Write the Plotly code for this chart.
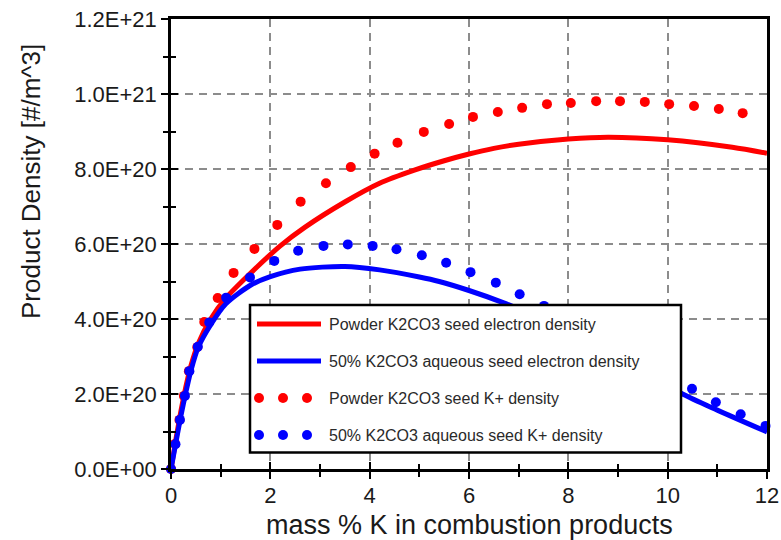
import plotly.graph_objects as go

# ---------------- data (densities in units of 1E+20 #/m^3) ----------------
SCALE = 1e20

powder_e_x = [0, 0.1, 0.2, 0.3, 0.4, 0.55, 0.8, 1.1, 1.6, 2.2, 2.7, 3.5, 4.2, 4.9,
              5.5, 6.0, 6.5, 7.0, 8.0, 8.8, 10.0, 11.3, 12.0]
powder_e_y = [0, 0.80, 1.55, 2.20, 2.75, 3.35, 4.00, 4.55, 5.22, 5.95, 6.45, 7.12,
              7.62, 7.97, 8.22, 8.40, 8.55, 8.66, 8.80, 8.85, 8.78, 8.58, 8.42]

aqueous_e_x = [0, 0.1, 0.2, 0.3, 0.4, 0.55, 0.8, 1.1, 1.6, 2.0, 2.6, 3.5, 4.2, 5.0,
               5.4, 6.0, 6.7, 7.5, 8.5, 9.5, 10.3, 11.0, 12.0]
aqueous_e_y = [0, 0.72, 1.42, 2.05, 2.62, 3.25, 3.85, 4.40, 4.90, 5.13, 5.33, 5.40,
               5.31, 5.12, 5.00, 4.76, 4.43, 3.98, 3.33, 2.62, 2.00, 1.57, 0.99]

powder_k_x = [0, 0.08, 0.17, 0.26, 0.36, 0.53, 0.67, 0.94, 1.26, 1.68, 2.14, 2.61,
              3.12, 3.62, 4.10, 4.56, 5.09, 5.60, 6.08, 6.58, 7.07, 7.57, 8.05,
              8.56, 9.04, 9.54, 10.03, 10.53, 11.03, 11.51]
powder_k_y = [0, 0.67, 1.31, 1.95, 2.61, 3.25, 3.92, 4.56, 5.23, 5.87, 6.51, 7.13,
              7.62, 8.05, 8.41, 8.70, 8.99, 9.20, 9.39, 9.52, 9.63, 9.73, 9.76,
              9.81, 9.81, 9.79, 9.73, 9.68, 9.60, 9.49]

aqueous_k_x = [0, 0.09, 0.18, 0.28, 0.37, 0.54, 0.77, 1.11, 1.59, 2.08, 2.56, 3.07,
               3.56, 4.06, 4.54, 5.05, 5.54, 6.03, 6.54, 7.02, 7.51, 8.0, 8.5,
               9.0, 9.5, 10.0, 10.49, 10.97, 11.47, 11.97]
aqueous_k_y = [0, 0.66, 1.31, 1.95, 2.61, 3.26, 3.91, 4.57, 5.11, 5.55, 5.82, 5.95,
               5.99, 5.95, 5.86, 5.70, 5.50, 5.25, 4.97, 4.66, 4.35, 3.99, 3.62,
               3.25, 2.88, 2.51, 2.14, 1.78, 1.46, 1.15]

series_names = [
    "Powder K2CO3 seed electron density",
    "50% K2CO3 aqueous seed electron density",
    "Powder K2CO3 seed K+ density",
    "50% K2CO3 aqueous seed K+ density",
]
series_colors = ["#ff0000", "#0000ff", "#ff0000", "#0000ff"]

y_tick_vals = [0, 2e20, 4e20, 6e20, 8e20, 1e21, 1.2e21]
y_tick_text = ["0.0E+00", "2.0E+20", "4.0E+20", "6.0E+20", "8.0E+20", "1.0E+21", "1.2E+21"]
y_minor_vals = [1e20, 3e20, 5e20, 7e20, 9e20, 1.1e21]

x_title = "mass % K in combustion products"
y_title = "Product Density [#/m^3]"

# ---------------- figure ----------------
def sc(v):
    return [a * SCALE for a in v]

fig = go.Figure()
fig.add_trace(go.Scatter(x=powder_e_x, y=sc(powder_e_y), mode="lines", name=series_names[0],
                         line=dict(color=series_colors[0], width=5, shape="spline", smoothing=0.8),
                         cliponaxis=False))
fig.add_trace(go.Scatter(x=powder_k_x, y=sc(powder_k_y), mode="markers", name=series_names[2],
                         marker=dict(color=series_colors[2], size=10), cliponaxis=False))
fig.add_trace(go.Scatter(x=aqueous_e_x, y=sc(aqueous_e_y), mode="lines", name=series_names[1],
                         line=dict(color=series_colors[1], width=5, shape="spline", smoothing=0.8),
                         cliponaxis=False))
fig.add_trace(go.Scatter(x=aqueous_k_x, y=sc(aqueous_k_y), mode="markers", name=series_names[3],
                         marker=dict(color=series_colors[3], size=10), cliponaxis=False))

L, R, T, B = 171, 14, 19, 71
W, H = 781, 540
PW, PH = W - L - R, H - T - B

def px(xp):
    return (xp - L) / PW

def py(yp):
    return (H - B - yp) / PH

grid = dict(showgrid=True, gridcolor="#8c8c8c", gridwidth=1.5, griddash="8px,6px")
FONT = "Liberation Sans, Arial, sans-serif"

fig.update_layout(
    width=W, height=H,
    margin=dict(l=L, r=R, t=T, b=B, autoexpand=False),
    paper_bgcolor="white", plot_bgcolor="white",
    showlegend=False,
    font=dict(family=FONT, color="#1a1a1a"),
    xaxis=dict(
        range=[0, 12], tick0=0, dtick=2, ticks="outside", ticklen=7, tickwidth=2,
        tickcolor="black", automargin=False, ticklabelstandoff=-2,
        minor=dict(ticks="outside", dtick=1, tick0=0, ticklen=5, tickwidth=2,
                   tickcolor="black", showgrid=False),
        showline=True, linewidth=2.5, linecolor="black", mirror=True,
        zeroline=False, tickfont=dict(size=22),
        **grid,
    ),
    yaxis=dict(
        range=[0, 1.2e21], tickmode="array", tickvals=y_tick_vals, ticktext=y_tick_text,
        ticks="outside", ticklen=7, tickwidth=2, tickcolor="black", automargin=False,
        minor=dict(ticks="outside", tickvals=y_minor_vals, ticklen=5, tickwidth=2,
                   tickcolor="black", showgrid=False),
        showline=True, linewidth=2.5, linecolor="black", mirror=True,
        zeroline=False, tickfont=dict(size=22),
        **grid,
    ),
    xaxis2=dict(
        overlaying="x", anchor="y", side="bottom", range=[0, 12], tick0=0, dtick=2,
        ticks="inside", ticklen=7, tickwidth=2, tickcolor="black", automargin=False,
        minor=dict(ticks="inside", dtick=1, tick0=0, ticklen=5, tickwidth=2,
                   tickcolor="black", showgrid=False),
        showticklabels=False, showgrid=False, showline=False, zeroline=False,
    ),
    yaxis2=dict(
        overlaying="y", anchor="x", side="left", range=[0, 1.2e21], tickmode="array",
        tickvals=y_tick_vals, ticks="inside", ticklen=7, tickwidth=2, tickcolor="black",
        automargin=False,
        minor=dict(ticks="inside", tickvals=y_minor_vals, ticklen=5, tickwidth=2,
                   tickcolor="black", showgrid=False),
        showticklabels=False, showgrid=False, showline=False, zeroline=False,
    ),
)
# dummy invisible trace so the overlay tick axes are drawn
fig.add_trace(go.Scatter(x=[None], y=[None], xaxis="x2", yaxis="y2", showlegend=False,
                         hoverinfo="skip"))

# ---------------- custom legend (drawn over the plot) ----------------
shapes = [dict(type="rect", xref="paper", yref="paper",
               x0=px(250), x1=px(681), y0=py(452.5), y1=py(305),
               fillcolor="white", line=dict(color="black", width=2.5), layer="above")]
row_y = [324, 361, 398, 435]
annotations = []
for i, (name, col) in enumerate(zip(series_names, series_colors)):
    yy = py(row_y[i])
    if i < 2:
        shapes.append(dict(type="line", xref="paper", yref="paper",
                           x0=px(257), x1=px(321), y0=yy, y1=yy,
                           line=dict(color=col, width=5), layer="above"))
    else:
        for cx in (259, 283, 307):
            shapes.append(dict(type="circle", xref="paper", yref="paper",
                               x0=px(cx - 5), x1=px(cx + 5),
                               y0=py(row_y[i] + 5), y1=py(row_y[i] - 5),
                               fillcolor=col, line=dict(color=col, width=0), layer="above"))
    annotations.append(dict(xref="paper", yref="paper", x=px(327), y=yy,
                            xanchor="left", yanchor="middle", showarrow=False,
                            text=name, font=dict(size=16, color="#2a2a2a", family=FONT)))

# axis titles
annotations.append(dict(xref="paper", yref="paper", x=px(469), y=py(525),
                        xanchor="center", yanchor="middle", showarrow=False,
                        text=x_title, font=dict(size=27, color="#1a1a1a", family=FONT)))
annotations.append(dict(xref="paper", yref="paper", x=px(31), y=py(182),
                        xanchor="center", yanchor="middle", showarrow=False, textangle=-90,
                        text=y_title, font=dict(size=26, color="#1a1a1a", family=FONT)))

fig.update_layout(shapes=shapes, annotations=annotations)

fig.write_html("out.html")
